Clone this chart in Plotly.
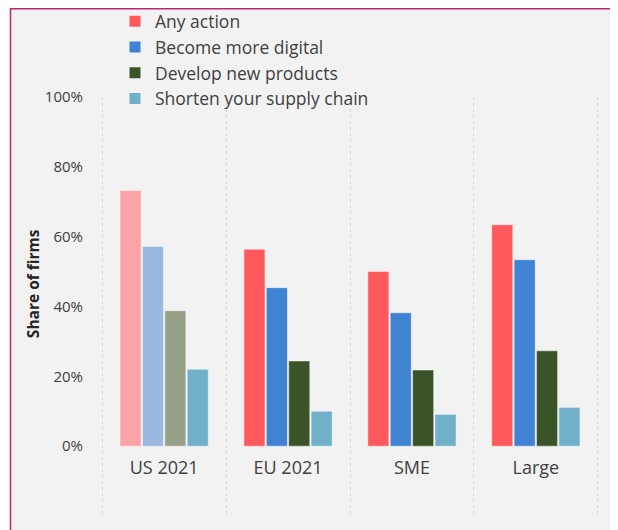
import plotly.graph_objects as go

categories = ["US 2021", "EU 2021", "SME", "Large"]
series_names = ["Any action", "Become more digital", "Develop new products", "Shorten your supply chain"]
any_action = [73.2, 56.4, 50.0, 63.4]
more_digital = [57.2, 45.4, 38.2, 53.4]
new_products = [38.8, 24.4, 21.8, 27.3]
supply_chain = [22.0, 10.0, 9.1, 11.1]
y_tick_vals = [0, 20, 40, 60, 80, 100]
y_tick_text = ["0%", "20%", "40%", "60%", "80%", "100%"]
y_title = "Share of firms"

base_colors = ["#ff585d", "#4183d3", "#3a5428", "#71b0c9"]
faded_colors = ["#f9a3a6", "#9ab9e1", "#95a087", "#71b0c9"]
all_values = [any_action, more_digital, new_products, supply_chain]

W, H = 618, 530
OFF = 8  # page body margin offset
# plot area in screen pixels
PL, PR, PT, PB = 96, 604, 97, 515.7
ML, MT = PL - OFF, PT - OFF
MR, MB = W - (PR - OFF), H - (PB - OFF)
FONT = "Open Sans"
TXT = "#404040"

fig = go.Figure()
for name, vals, bc, fc in zip(series_names, all_values, base_colors, faded_colors):
    cols = [fc if c == "US 2021" else bc for c in categories]
    fig.add_trace(go.Bar(
        x=categories, y=vals, name=name, showlegend=False,
        marker=dict(color=cols, line=dict(color="rgba(255,255,255,0.45)", width=1)),
    ))
for name, bc in zip(series_names, base_colors):
    fig.add_trace(go.Scatter(
        x=[None], y=[None], mode="markers", name=name,
        marker=dict(symbol="square", size=11, color=bc),
    ))

pw = PR - PL
ph = PB - PT
def px_x(p):
    return (p - PL) / pw
def px_y(p):
    return (PB - p) / ph

y_lo = -20
fig.update_layout(
    width=W, height=H,
    margin=dict(l=ML, r=MR, t=MT, b=MB, pad=0, autoexpand=False),
    paper_bgcolor="white", plot_bgcolor="rgba(0,0,0,0)",
    barmode="group", bargap=0.277, bargroupgap=0.06,
    font=dict(family=FONT, color=TXT),
    showlegend=True,
    legend=dict(x=px_x(115), y=px_y(3.5),
                xanchor="left", yanchor="top", bgcolor="rgba(0,0,0,0)",
                font=dict(size=17.5, color=TXT, family=FONT), traceorder="normal",
                tracegroupgap=0, itemclick=False),
    xaxis=dict(type="category", range=[-0.55, 3.55], tickson="boundaries",
               showgrid=True, gridcolor="#d9d9d9", griddash="dot", gridwidth=1,
               anchor="free", position=(0 - y_lo) / (100 - y_lo), automargin=False,
               showline=False, zeroline=False, ticks="", ticklabelstandoff=9,
               tickangle=0,
               tickfont=dict(size=18, color=TXT, family=FONT)),
    yaxis=dict(range=[y_lo, 100], tickvals=y_tick_vals, ticktext=y_tick_text,
               showgrid=False, zeroline=False, showline=False, automargin=False,
               ticks="outside", ticklen=9, tickcolor="rgba(0,0,0,0)",
               tickfont=dict(size=15, color=TXT, family=FONT)),
    shapes=[dict(type="rect", xref="paper", yref="paper",
                 x0=px_x(10.5), x1=px_x(640), y0=px_y(560), y1=px_y(OFF + 0.8),
                 fillcolor="#f2f2f2", line=dict(color="#c0266e", width=1.5), layer="below")],
    annotations=[dict(text="<b>" + y_title + "</b>", xref="paper", yref="paper",
                      x=px_x(33), y=px_y(284), xanchor="center", yanchor="middle",
                      textangle=-90, showarrow=False,
                      font=dict(size=15.5, color="#262626", family=FONT))],
)

fig.write_html("out.html")
